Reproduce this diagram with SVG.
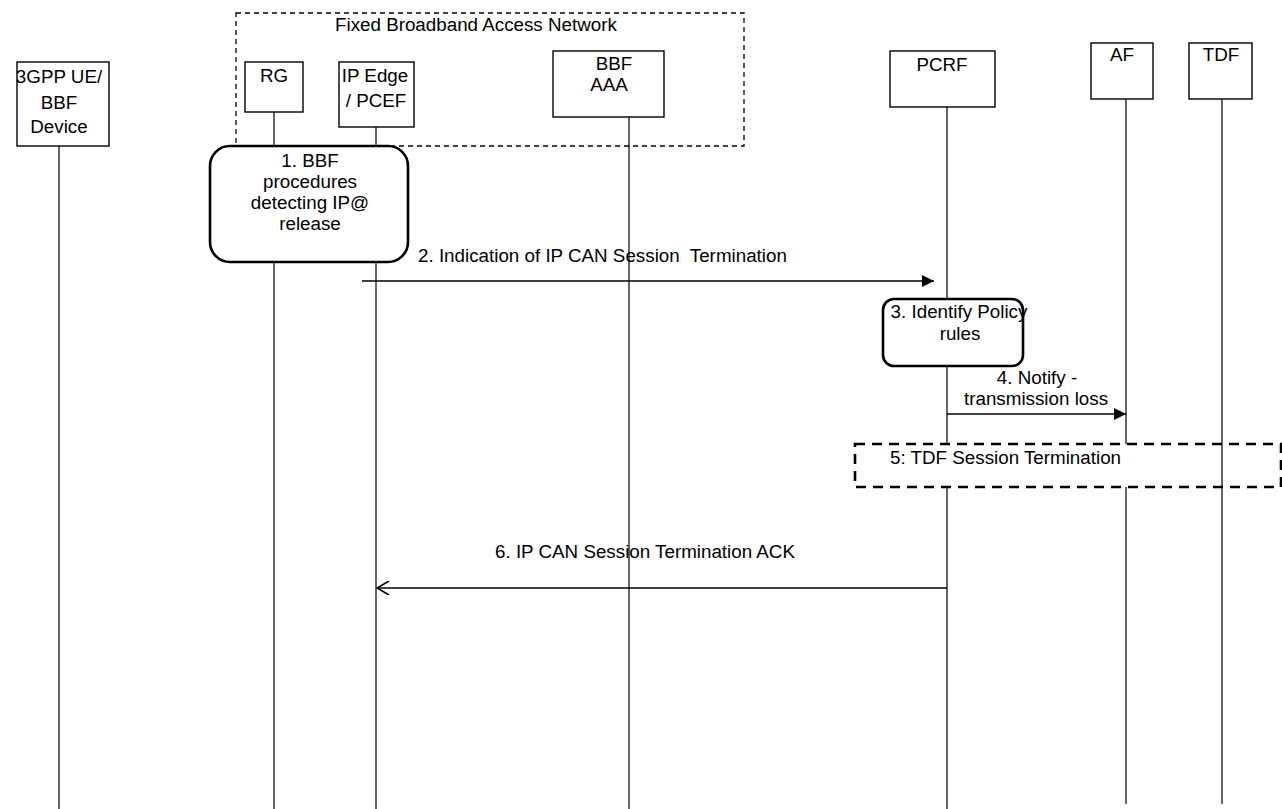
<svg xmlns="http://www.w3.org/2000/svg" width="1282" height="809" viewBox="0 0 1282 809">
<defs>
<style>
text{font-family:"Liberation Sans",Arial,sans-serif;font-size:18.8px;fill:#000;white-space:pre}
.c{text-anchor:middle}
.box{fill:#fff;stroke:#000;stroke-width:1.4}
.life{stroke:#000;stroke-width:1.2;fill:none}
.proc{fill:#fff;stroke:#000;stroke-width:2.6}
.msg{stroke:#000;stroke-width:1.6;fill:none}
</style>
<marker id="filled" viewBox="0 0 12 12" markerWidth="12" markerHeight="12" refX="12" refY="6" orient="auto" markerUnits="userSpaceOnUse">
<path d="M0,0 L12,6 L0,12 Z" fill="#000"/>
</marker>
<marker id="open" viewBox="0 0 14 14" markerWidth="14" markerHeight="14" refX="13" refY="7" orient="auto" markerUnits="userSpaceOnUse">
<path d="M1,0 L13,7 L1,14" fill="none" stroke="#000" stroke-width="1.6"/>
</marker>
</defs>
<rect width="1282" height="809" fill="#fff"/>

<g id="fban">
<rect x="236" y="13" width="508" height="133" fill="none" stroke="#000" stroke-width="1.3" stroke-dasharray="5,4"/>
<text x="335" y="31">Fixed Broadband Access Network</text>
</g>

<g id="lifelines">
<line class="life" x1="59" y1="146" x2="59" y2="809"/>
<line class="life" x1="274" y1="112" x2="274" y2="809"/>
<line class="life" x1="376" y1="127" x2="376" y2="809"/>
<line class="life" x1="629" y1="117" x2="629" y2="809"/>
<line class="life" x1="947" y1="107" x2="947" y2="809"/>
<line class="life" x1="1126" y1="99" x2="1126" y2="804"/>
</g>

<g id="ue">
<rect class="box" x="17" y="62" width="92" height="84"/>
<text class="c" x="59" y="83">3GPP UE/</text>
<text class="c" x="59" y="109">BBF</text>
<text class="c" x="59" y="133">Device</text>
</g>
<g id="rg">
<rect class="box" x="245" y="62" width="58" height="50"/>
<text class="c" x="274" y="82">RG</text>
</g>
<g id="ipedge">
<rect class="box" x="339" y="62" width="75" height="65"/>
<text class="c" x="375" y="82">IP Edge</text>
<text class="c" x="376" y="107">/ PCEF</text>
</g>
<g id="aaa">
<rect class="box" x="553" y="51" width="111" height="66"/>
<text class="c" x="614" y="70">BBF</text>
<text class="c" x="609" y="91">AAA</text>
</g>
<g id="pcrf">
<rect class="box" x="890" y="51" width="105" height="56"/>
<text class="c" x="942" y="71">PCRF</text>
</g>
<g id="af">
<rect class="box" x="1091" y="43" width="62" height="56"/>
<text class="c" x="1122" y="61">AF</text>
</g>
<g id="tdf">
<rect class="box" x="1189" y="43" width="63" height="56"/>
<text class="c" x="1221" y="61">TDF</text>
</g>

<g id="step1">
<rect class="proc" x="210" y="146" width="198" height="116" rx="20" ry="20"/>
<text class="c" x="310" y="167">1. BBF</text>
<text class="c" x="310" y="188">procedures</text>
<text class="c" x="310" y="209">detecting IP@</text>
<text class="c" x="310" y="230">release</text>
</g>

<g id="step3">
<rect class="proc" x="883" y="299" width="140" height="67" rx="11" ry="11"/>
<text class="c" x="959" y="318">3. Identify Policy</text>
<text class="c" x="960" y="340">rules</text>
</g>

<g id="step5">
<rect x="855" y="444" width="426" height="43" fill="#fff" stroke="#000" stroke-width="2.6" stroke-dasharray="10,7"/>
<line class="life" x1="1222" y1="99" x2="1222" y2="804"/>
<text x="890" y="464">5: TDF Session Termination</text>
</g>

<g id="connectors">
<line class="msg" x1="362" y1="281" x2="934" y2="281" marker-end="url(#filled)"/>
<text x="418" y="262" xml:space="preserve">2. Indication of IP CAN Session  Termination</text>
<line class="msg" x1="947" y1="414" x2="1126" y2="414" marker-end="url(#filled)"/>
<text class="c" x="1037" y="384">4. Notify -</text>
<text x="964" y="405">transmission loss</text>
<line class="msg" x1="947" y1="588" x2="377" y2="588" marker-end="url(#open)"/>
<text x="495" y="558">6. IP CAN Session Termination ACK</text>
</g>
</svg>
